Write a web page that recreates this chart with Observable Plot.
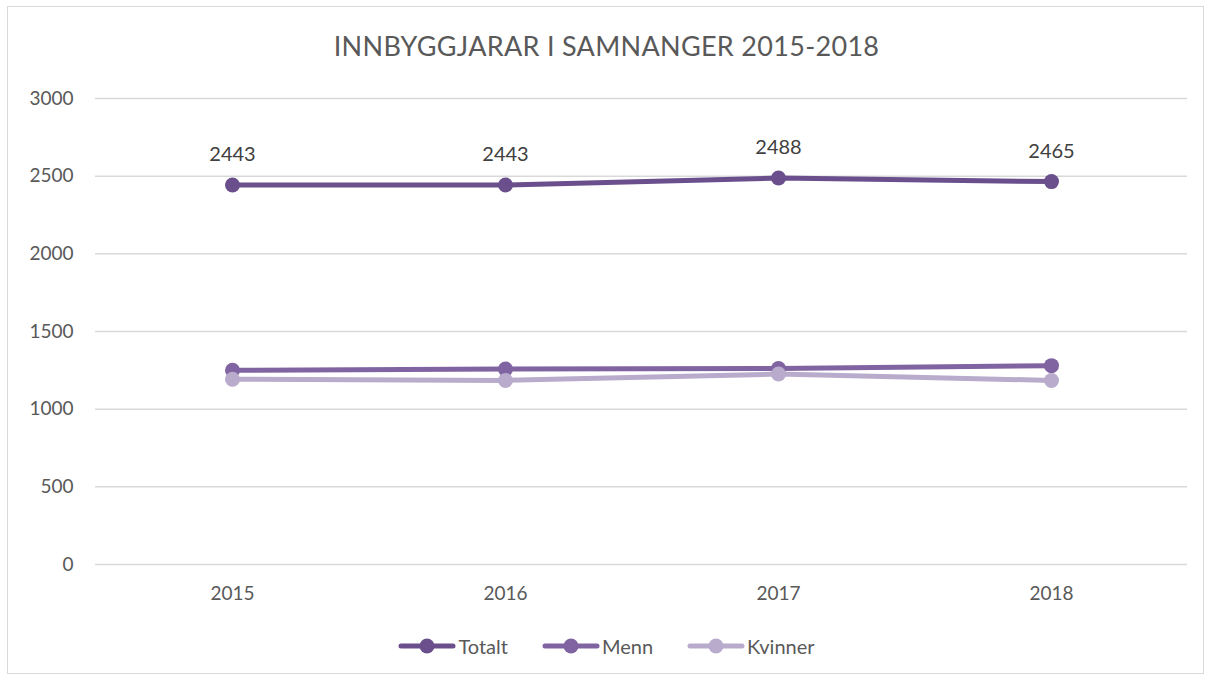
<!DOCTYPE html>
<html>
<head>
<meta charset="utf-8">
<script src="https://cdn.jsdelivr.net/npm/d3@7"></script>
<script src="https://cdn.jsdelivr.net/npm/@observablehq/plot@0.6"></script>
<style>
  html, body { margin: 0; padding: 0; background: #fff; }
  #wrap { position: relative; width: 1213px; height: 681px; font-family: Lato, "Open Sans", sans-serif; }
  #frame { position: absolute; left: 7px; top: 6px; width: 1197px; height: 668px; border: 1px solid #d9d9d9; box-sizing: border-box; }
  #title { position: absolute; left: 0; width: 1213px; top: 29px; text-align: center; font-size: 27px; color: #595959; letter-spacing: 0.3px; }
  #chart { position: absolute; left: 0; top: 0; }
  #legend { position: absolute; left: 0; width: 1213px; top: 634px; display: flex; justify-content: center; gap: 34px; font-size: 20px; color: #595959; }
  .item { display: flex; align-items: center; gap: 2px; }
</style>
</head>
<body>
<div id="wrap">
  <div id="frame"></div>
  <div id="chart"></div>
  <div id="title">INNBYGGJARAR I SAMNANGER 2015-2018</div>
  <div id="legend"></div>
</div>
<script>
const years = ["2015", "2016", "2017", "2018"];
const totalt = [2443, 2443, 2488, 2465];
const menn = [1250, 1258, 1262, 1280];
const kvinner = [1193, 1185, 1226, 1185];
const seriesNames = ["Totalt", "Menn", "Kvinner"];
const seriesColors = ["#6a4f8c", "#8064a2", "#b8abcc"];
const yTicks = [0, 500, 1000, 1500, 2000, 2500, 3000];

const seriesValues = [totalt, menn, kvinner];
const data = [];
seriesNames.forEach((name, i) => {
  years.forEach((yr, j) => data.push({series: name, year: yr, value: seriesValues[i][j]}));
});
const totalData = data.filter(d => d.series === "Totalt");

const chart = Plot.plot({
  width: 1213,
  height: 620,
  marginLeft: 95,
  marginRight: 26,
  marginTop: 98,
  marginBottom: 56,
  style: {fontFamily: "Lato, 'Open Sans', sans-serif", fontSize: "18px", color: "#595959", background: "transparent"},
  x: {type: "point", domain: years, padding: 0.5, label: null, tickSize: 0, tickPadding: 22},
  y: {domain: [0, 3000], ticks: yTicks, label: null, tickSize: 0, tickPadding: 22, grid: false},
  color: {domain: seriesNames, range: seriesColors},
  marks: [
    Plot.ruleY(yTicks, {stroke: "#d9d9d9", strokeWidth: 1.5}),
    Plot.axisY({ticks: yTicks, tickFormat: d => String(d), tickSize: 0, tickPadding: 22, label: null, fill: "#595959", fontSize: 19}),
    Plot.axisX({tickSize: 0, tickPadding: 22, label: null, fill: "#595959", fontSize: 19}),
    Plot.line(data, {x: "year", y: "value", z: "series", stroke: "series", strokeWidth: 5, strokeLinecap: "round", strokeLinejoin: "round", curve: "linear"}),
    Plot.dot(data, {x: "year", y: "value", fill: "series", r: 7.5}),
    Plot.text(totalData, {x: "year", y: "value", text: d => String(d.value), dy: -30, fill: "#404040", fontSize: 20})
  ]
});
document.getElementById("chart").appendChild(chart);

const legend = document.getElementById("legend");
seriesNames.forEach((name, i) => {
  const item = document.createElement("div");
  item.className = "item";
  item.innerHTML = `<svg width="58" height="20"><line x1="3" y1="10" x2="55" y2="10" stroke="${seriesColors[i]}" stroke-width="5" stroke-linecap="round"/><circle cx="29" cy="10" r="7.5" fill="${seriesColors[i]}"/></svg><span>${name}</span>`;
  legend.appendChild(item);
});
</script>
</body>
</html>
